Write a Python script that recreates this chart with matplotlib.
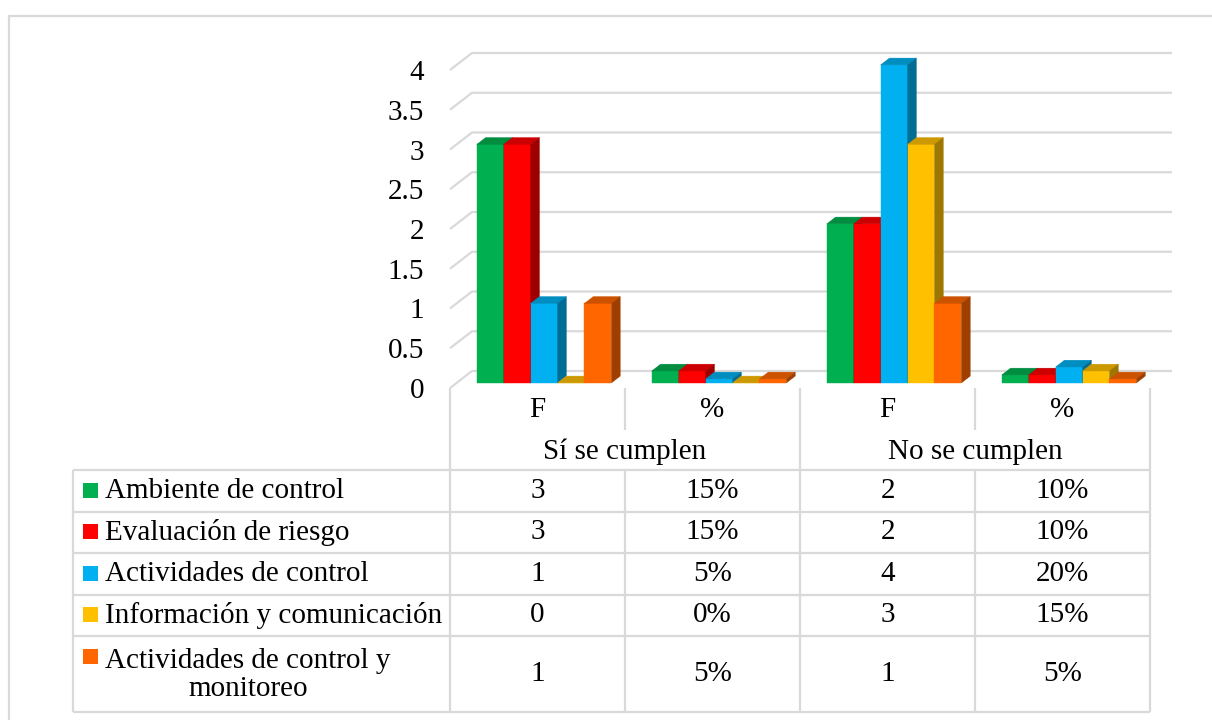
import matplotlib
matplotlib.use("Agg")
import matplotlib.pyplot as plt
import matplotlib.colors as mcolors
from matplotlib.patches import Polygon, Rectangle

# ---- data -------------------------------------------------------------
series_names = [
    "Ambiente de control",
    "Evaluación de riesgo",
    "Actividades de control",
    "Información y comunicación",
    "Actividades de control y\nmonitoreo",
]
series_colors = ["#00B050", "#FF0000", "#00B0F0", "#FFC000", "#FF6600"]
column_labels = ["F", "%", "F", "%"]
group_labels = ["Sí se cumplen", "No se cumplen"]
si_freq = [3, 3, 1, 0, 1]
si_pct = [0.15, 0.15, 0.05, 0.00, 0.05]
no_freq = [2, 2, 4, 3, 1]
no_pct = [0.10, 0.10, 0.20, 0.15, 0.05]
y_ticks = [0, 0.5, 1, 1.5, 2, 2.5, 3, 3.5, 4]
y_tick_labels = ["0", "0.5", "1", "1.5", "2", "2.5", "3", "3.5", "4"]

columns = [si_freq, si_pct, no_freq, no_pct]
is_percent = [False, True, False, True]

# ---- style ------------------------------------------------------------
FONT = ["Liberation Serif", "DejaVu Serif"]
FS = 21
GRID = "#D9D9D9"
plt.rcParams["font.family"] = FONT

W, H = 1212, 720
fig = plt.figure(figsize=(W / 100, H / 100), dpi=100)

# plot area geometry (pixels)
X0, Y0 = 450, 388          # front-left corner of the floor (value 0)
CAT_PX, UNIT_PX = 175, 79.5
DEPTH_PX = (22, 17)        # back wall offset
n_cat = len(column_labels)
y_max = y_ticks[-1]

# overlay axes in pixel coordinates for the table and frame
tax = fig.add_axes([0, 0, 1, 1])
tax.set_xlim(0, W)
tax.set_ylim(H, 0)
tax.axis("off")

ax = fig.add_axes([X0 / W, (H - Y0) / H, n_cat * CAT_PX / W, y_max * UNIT_PX / H])
ax.set_xlim(0, n_cat)
ax.set_ylim(0, y_max)
ax.patch.set_alpha(0)
for s in ax.spines.values():
    s.set_visible(False)
ax.set_xticks([])
ax.set_yticks(y_ticks)
ax.set_yticklabels(y_tick_labels, fontsize=FS, family=FONT)
ax.tick_params(axis="y", length=0, pad=18.5)

ddx = DEPTH_PX[0] / CAT_PX
ddy = DEPTH_PX[1] / UNIT_PX

# back wall gridlines with the left-wall diagonal
for t in y_ticks:
    ax.plot([0, ddx, n_cat + ddx], [t, t + ddy, t + ddy], color=GRID, lw=1.6,
            clip_on=False, zorder=1, solid_capstyle="butt")

# 3D-style clustered columns
n_ser = len(series_names)
bw = 1 / (n_ser + 1.5)
gap = 0.75 * bw
d0, d1 = 0.3, 0.7
dx, dy = (d1 - d0) * ddx, (d1 - d0) * ddy


def shade(c, f):
    r, g, b = mcolors.to_rgb(c)
    return (r * f, g * f, b * f)


for i, (name, color) in enumerate(zip(series_names, series_colors)):
    vals = [col[i] for col in columns]
    xs = [k + gap + i * bw + d0 * ddx for k in range(n_cat)]
    by = d0 * ddy
    z = 3 + i
    ax.bar(xs, vals, width=bw, bottom=by, align="edge", color=color,
           edgecolor=color, linewidth=0.3, clip_on=False, zorder=z)
    for x0, v in zip(xs, vals):
        top = [(x0, by + v), (x0 + bw, by + v), (x0 + bw + dx, by + v + dy), (x0 + dx, by + v + dy)]
        side = [(x0 + bw, by), (x0 + bw + dx, by + dy), (x0 + bw + dx, by + v + dy), (x0 + bw, by + v)]
        ax.add_patch(Polygon(top, closed=True, facecolor=shade(color, 0.8),
                             edgecolor=shade(color, 0.8), lw=0.3, clip_on=False, zorder=z))
        ax.add_patch(Polygon(side, closed=True, facecolor=shade(color, 0.62),
                             edgecolor=shade(color, 0.62), lw=0.3, clip_on=False, zorder=z))

# ---- data table -------------------------------------------------------
TL = 73                     # left edge of the legend column
hdr_bot, grp_bot = 430, 470
row_lines = [470, 511.5, 553, 594.5, 636, 712]
col_x = [X0 + k * CAT_PX for k in range(n_cat + 1)]


def line(xs, ys):
    tax.plot(xs, ys, color=GRID, lw=1.6, solid_capstyle="butt")


# outer chart frame
line([8.5, 8.5, W], [H, 16, 16])

for k, x in enumerate(col_x):
    if k % 2 == 1:
        line([x, x], [Y0, hdr_bot])
        line([x, x], [grp_bot, row_lines[-1]])
    else:
        line([x, x], [Y0, row_lines[-1]])
line([TL, TL], [row_lines[0], row_lines[-1]])
for y in row_lines:
    line([TL, col_x[-1]], [y, y])

for k, lab in enumerate(column_labels):
    tax.text(col_x[k] + CAT_PX / 2, 410, lab, ha="center", va="center", fontsize=FS)
for g, lab in enumerate(group_labels):
    tax.text(col_x[2 * g + 1], 452, lab, ha="center", va="center", fontsize=FS)

for i, (name, color) in enumerate(zip(series_names, series_colors)):
    ytop, ybot = row_lines[i], row_lines[i + 1]
    yc = (ytop + ybot) / 2
    multi = "\n" in name
    key_y = ytop + 20 if multi else yc - 0.5
    tax.add_patch(Rectangle((83, key_y - 7.5), 15, 15, facecolor=color, edgecolor="none"))
    if multi:
        tax.text(248, yc + 1, name, ha="center", va="center", fontsize=FS,
                 multialignment="center", linespacing=1.1)
    else:
        tax.text(105, yc, name, ha="left", va="center", fontsize=FS)
    for k, col in enumerate(columns):
        v = col[i]
        txt = f"{round(v * 100)}%" if is_percent[k] else f"{v:g}"
        tax.text(col_x[k] + CAT_PX / 2, yc, txt, ha="center", va="center", fontsize=FS)

fig.savefig("out.png", dpi=100)
